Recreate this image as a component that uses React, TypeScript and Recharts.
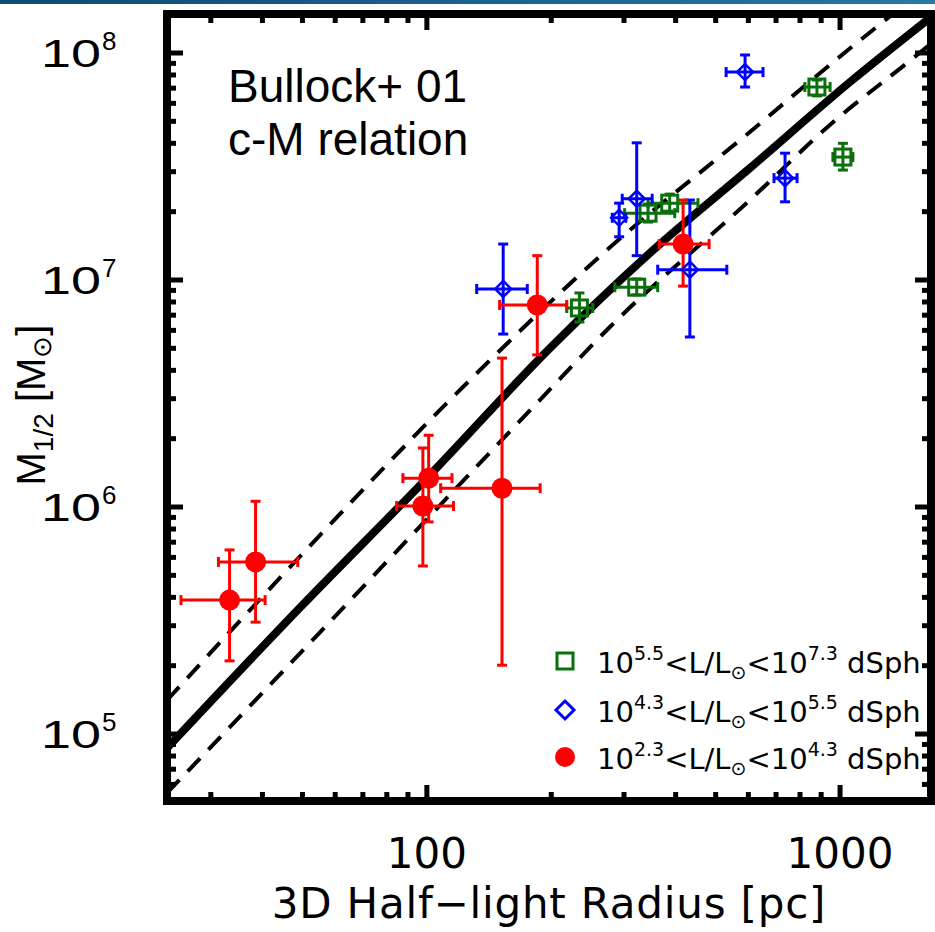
import React from "react";
import { ComposedChart, Line, Scatter, XAxis, YAxis, ErrorBar } from "recharts";

const W = 935;
const H = 932;

// axis ranges (pc, Msun)
const xDomain = [23.5, 1660];
const yDomain = [5.07e4, 1.485e8];

const xTicks = [30, 40, 50, 60, 70, 80, 90, 100, 200, 300, 400, 500, 600, 700, 800, 900, 1000];
const xLabels = [100, 1000];
const yTicks = [
  6e4, 7e4, 8e4, 9e4, 1e5, 2e5, 3e5, 4e5, 5e5, 6e5, 7e5, 8e5, 9e5, 1e6, 2e6, 3e6, 4e6, 5e6, 6e6, 7e6, 8e6, 9e6,
  1e7, 2e7, 3e7, 4e7, 5e7, 6e7, 7e7, 8e7, 9e7, 1e8,
];
const yLabels = [1e5, 1e6, 1e7, 1e8];
const yExponents = ["5", "6", "7", "8"];

// 10^5.5 < L < 10^7.3
const greenR = [234, 322, 343, 387, 879, 1016];
const greenM = [7.53e6, 9.3e6, 1.97e7, 2.18e7, 7.08e7, 3.48e7];
const greenRLo = [218, 285, 301, 343, 822, 961];
const greenRHi = [252, 362, 398, 453, 946, 1074];
const greenMLo = [6.53e6, 8.6e6, 1.8e7, 2.0e7, 6.47e7, 3.05e7];
const greenMHi = [8.77e6, 1.01e7, 2.16e7, 2.39e7, 7.6e7, 4.0e7];

// 10^4.3 < L < 10^5.5
const blueR = [589, 736, 322, 292, 433, 153];
const blueM = [8.24e7, 2.81e7, 2.28e7, 1.88e7, 1.11e7, 9.13e6];
const blueRLo = [530, 692, 297, 281, 362, 132];
const blueRHi = [651, 787, 351, 303, 532, 175];
const blueMLo = [7.08e7, 2.21e7, 1.28e7, 1.55e7, 5.61e6, 5.78e6];
const blueMHi = [9.8e7, 3.62e7, 4.02e7, 2.18e7, 2.25e7, 1.44e7];

// 10^2.3 < L < 10^4.3
const redR = [417, 185, 152, 101, 97.8, 38.5, 33.3];
const redM = [1.44e7, 7.76e6, 1.21e6, 1.34e6, 1.01e6, 5.73e5, 3.89e5];
const redRLo = [365, 150, 108, 87.5, 84.5, 31.3, 25.4];
const redRHi = [482, 218, 188, 115, 116, 48.7, 40.6];
const redMLo = [9.4e6, 4.68e6, 2.01e5, 8.6e5, 5.5e5, 3.11e5, 2.1e5];
const redMHi = [2.25e7, 1.28e7, 4.53e6, 2.07e6, 1.82e6, 1.06e6, 6.47e5];

// Bullock+01 c-M relation and its scatter
const solidR = [23.5, 49.2, 100, 198.6, 346.6, 605, 1057, 1660];
const solidM = [8.67e4, 3.59e5, 1.34e6, 5.01e6, 1.315e7, 3.11e7, 7.45e7, 1.44e8];
const upperR = [23.5, 49.2, 113.7, 272.9, 605, 1045, 1343];
const upperM = [1.41e5, 6.03e5, 2.96e6, 1.356e7, 4.49e7, 1.03e8, 1.485e8];
const lowerR = [23.5, 50.7, 187.7, 277.3, 605, 957, 1462, 1660];
const lowerM = [5.5e4, 2.39e5, 2.96e6, 6.21e6, 2.25e7, 4.92e7, 9.12e7, 1.1e8];

const GREEN = "#0b700b";
const BLUE = "#0000ff";
const RED = "#ff0000";

const pts = (r: number[], m: number[], rLo: number[], rHi: number[], mLo: number[], mHi: number[]) =>
  r.map((v, i) => ({ r: v, m: m[i], ex: [v - rLo[i], rHi[i] - v], ey: [m[i] - mLo[i], mHi[i] - m[i]] }));
const curve = (r: number[], m: number[]) => r.map((v, i) => ({ r: v, m: m[i] }));

const greenData = pts(greenR, greenM, greenRLo, greenRHi, greenMLo, greenMHi);
const blueData = pts(blueR, blueM, blueRLo, blueRHi, blueMLo, blueMHi);
const redData = pts(redR, redM, redRLo, redRHi, redMLo, redMHi);

const isMajor = (v: number, list: number[]) => list.some((t) => Math.abs(v / t - 1) < 1e-6);

const BottomTick = (p: any) => {
  const major = isMajor(p.payload.value, xLabels);
  return (
    <g>
      <line x1={p.x} y1={p.y} x2={p.x} y2={p.y - (major ? 16 : 9)} stroke="#000" strokeWidth={5} />
      {major && (
        <text x={p.x} y={p.y + 67} textAnchor="middle" fontFamily="DejaVu Sans" fontSize={42} fill="#000">
          {p.payload.value}
        </text>
      )}
    </g>
  );
};
const TopTick = (p: any) => {
  const major = isMajor(p.payload.value, xLabels);
  return <line x1={p.x} y1={p.y} x2={p.x} y2={p.y + (major ? 16 : 9)} stroke="#000" strokeWidth={5} />;
};
const LeftTick = (p: any) => {
  const idx = yLabels.findIndex((t) => Math.abs(p.payload.value / t - 1) < 1e-6);
  return (
    <g>
      <line x1={p.x} y1={p.y} x2={p.x + (idx >= 0 ? 16 : 9)} y2={p.y} stroke="#000" strokeWidth={5} />
      {idx >= 0 && (
        <g fontFamily="Liberation Sans" fill="#000">
          <text x={p.x - 126} y={p.y + 14} fontSize={39} textLength={60} lengthAdjust="spacingAndGlyphs">
            10
          </text>
          <text x={p.x - 65} y={p.y - 3} fontSize={26}>
            {yExponents[idx]}
          </text>
        </g>
      )}
    </g>
  );
};
const RightTick = (p: any) => {
  const major = isMajor(p.payload.value, yLabels);
  return <line x1={p.x} y1={p.y} x2={p.x - (major ? 16 : 9)} y2={p.y} stroke="#000" strokeWidth={5} />;
};

const Square = (p: any) => (
  <rect x={p.cx - 8} y={p.cy - 8} width={16} height={16} fill="none" stroke={GREEN} strokeWidth={3} />
);
const Diamond = (p: any) => (
  <polygon
    points={`${p.cx},${p.cy - 8} ${p.cx + 8},${p.cy} ${p.cx},${p.cy + 8} ${p.cx - 8},${p.cy}`}
    fill="none"
    stroke={BLUE}
    strokeWidth={2.5}
  />
);
const Dot = (p: any) => <circle cx={p.cx} cy={p.cy} r={10.5} fill={RED} />;

const axisLine = { stroke: "#000", strokeWidth: 8, strokeLinecap: "square" as const };

const legendRows = [
  { color: GREEN, lo: "5.5", hi: "7.3", y: 661, kind: "square" },
  { color: BLUE, lo: "4.3", hi: "5.5", y: 710, kind: "diamond" },
  { color: RED, lo: "2.3", hi: "4.3", y: 757, kind: "dot" },
];

export default function App() {
  return (
    <div style={{ position: "absolute", left: 0, top: 0, width: W, height: H, background: "#fff" }}>
      <div
        style={{
          position: "absolute",
          left: 0,
          top: 0,
          width: W,
          height: 4,
          background: "linear-gradient(90deg, #0f4a72, #2878a8)",
        }}
      />
      <ComposedChart width={W} height={H} margin={{ top: 0, right: 0, bottom: 0, left: 0 }}>
        <XAxis
          xAxisId="b"
          type="number"
          dataKey="r"
          scale="log"
          domain={xDomain}
          allowDataOverflow
          ticks={xTicks}
          interval={0}
          tick={<BottomTick />}
          tickLine={false}
          tickSize={0}
          tickMargin={0}
          axisLine={axisLine}
          height={131}
        />
        <XAxis
          xAxisId="t"
          orientation="top"
          type="number"
          dataKey="r"
          scale="log"
          domain={xDomain}
          allowDataOverflow
          ticks={xTicks}
          interval={0}
          tick={<TopTick />}
          tickLine={false}
          tickSize={0}
          tickMargin={0}
          axisLine={axisLine}
          height={14}
        />
        <YAxis
          yAxisId="l"
          type="number"
          dataKey="m"
          scale="log"
          domain={yDomain}
          allowDataOverflow
          ticks={yTicks}
          interval={0}
          tick={<LeftTick />}
          tickLine={false}
          tickSize={0}
          tickMargin={0}
          axisLine={axisLine}
          width={167}
        />
        <YAxis
          yAxisId="r"
          orientation="right"
          type="number"
          dataKey="m"
          scale="log"
          domain={yDomain}
          allowDataOverflow
          ticks={yTicks}
          interval={0}
          tick={<RightTick />}
          tickLine={false}
          tickSize={0}
          tickMargin={0}
          axisLine={axisLine}
          width={4}
        />
        <Line
          xAxisId="b"
          yAxisId="l"
          data={curve(upperR, upperM)}
          dataKey="m"
          type="monotone"
          stroke="#000"
          strokeWidth={4}
          strokeDasharray="18 12"
          dot={false}
          activeDot={false}
          isAnimationActive={false}
        />
        <Line
          xAxisId="b"
          yAxisId="l"
          data={curve(lowerR, lowerM)}
          dataKey="m"
          type="monotone"
          stroke="#000"
          strokeWidth={4}
          strokeDasharray="18 12"
          dot={false}
          activeDot={false}
          isAnimationActive={false}
        />
        <Line
          xAxisId="b"
          yAxisId="l"
          data={curve(solidR, solidM)}
          dataKey="m"
          type="monotone"
          stroke="#000"
          strokeWidth={8}
          dot={false}
          activeDot={false}
          isAnimationActive={false}
        />
        <Scatter xAxisId="b" yAxisId="l" data={greenData} dataKey="m" shape={<Square />} isAnimationActive={false}>
          <ErrorBar dataKey="ex" direction="x" width={5} stroke={GREEN} strokeWidth={3} isAnimationActive={false} />
          <ErrorBar dataKey="ey" direction="y" width={5} stroke={GREEN} strokeWidth={3} isAnimationActive={false} />
        </Scatter>
        <Scatter xAxisId="b" yAxisId="l" data={blueData} dataKey="m" shape={<Diamond />} isAnimationActive={false}>
          <ErrorBar dataKey="ex" direction="x" width={5} stroke={BLUE} strokeWidth={3} isAnimationActive={false} />
          <ErrorBar dataKey="ey" direction="y" width={5} stroke={BLUE} strokeWidth={3} isAnimationActive={false} />
        </Scatter>
        <Scatter xAxisId="b" yAxisId="l" data={redData} dataKey="m" shape={<Dot />} isAnimationActive={false}>
          <ErrorBar dataKey="ex" direction="x" width={5} stroke={RED} strokeWidth={3} isAnimationActive={false} />
          <ErrorBar dataKey="ey" direction="y" width={5} stroke={RED} strokeWidth={3} isAnimationActive={false} />
        </Scatter>
      </ComposedChart>
      <svg width={W} height={H} style={{ position: "absolute", left: 0, top: 0, pointerEvents: "none" }}>
        <g fontFamily="Liberation Sans" fontSize={46} fill="#000">
          <text x={228} y={102}>Bullock+ 01</text>
          <text x={228} y={155}>c-M relation</text>
        </g>
        <text x={549} y={918} textAnchor="middle" fontFamily="DejaVu Sans" fontSize={42} fill="#000" letterSpacing={0.8}>
          3D Half−light Radius [pc]
        </text>
        <text
          transform="translate(45,405) rotate(-90)"
          textAnchor="middle"
          fontFamily="Liberation Sans"
          fontSize={40}
          fill="#000"
        >
          M
          <tspan fontSize={28} dy={8}>
            1/2
          </tspan>
          <tspan dy={-8}> [M</tspan>
          <tspan fontSize={26} dy={6}>
            ⊙
          </tspan>
          <tspan dy={-6}>]</tspan>
        </text>
        {legendRows.map((row) => (
          <g key={row.lo}>
            {row.kind === "square" && (
              <rect x={557} y={row.y - 8} width={16} height={16} fill="none" stroke={row.color} strokeWidth={3} />
            )}
            {row.kind === "diamond" && (
              <polygon
                points={`565,${row.y - 9} 574,${row.y} 565,${row.y + 9} 556,${row.y}`}
                fill="none"
                stroke={row.color}
                strokeWidth={3}
              />
            )}
            {row.kind === "dot" && <circle cx={565} cy={row.y} r={10} fill={row.color} />}
            <text x={597} y={row.y + 12} fontFamily="DejaVu Sans" fontSize={29} fill="#000">
              10
              <tspan fontSize={19} dy={-13}>
                {row.lo}
              </tspan>
              <tspan dy={13}>{"<L/L"}</tspan>
              <tspan fontSize={19} dy={6}>
                ⊙
              </tspan>
              <tspan dy={-6}>{"<10"}</tspan>
              <tspan fontSize={19} dy={-13}>
                {row.hi}
              </tspan>
              <tspan dy={13}> dSph</tspan>
            </text>
          </g>
        ))}
      </svg>
    </div>
  );
}
